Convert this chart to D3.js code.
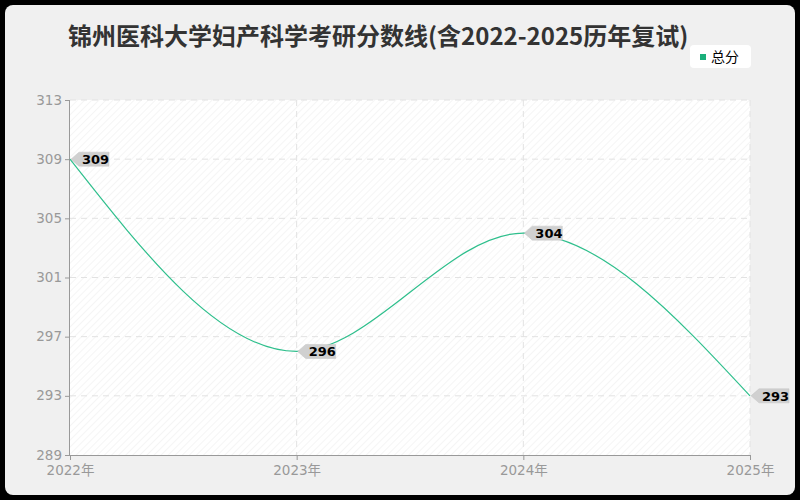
<!DOCTYPE html>
<html>
<head>
<meta charset="utf-8">
<script src="https://cdn.jsdelivr.net/npm/d3@7"></script>
<style>
  body { margin: 0; background: #000; }
  svg { display: block; font-family: "Noto Sans CJK SC", "Noto Sans", sans-serif; }
</style>
</head>
<body>
<svg id="chart" width="800" height="500"></svg>
<script>
// data
var years = ["2022年", "2023年", "2024年", "2025年"];
var scores = [309, 296, 304, 293];
var yTicks = [289, 293, 297, 301, 305, 309, 313];
var seriesName = "总分";
var title = "锦州医科大学妇产科学考研分数线(含2022-2025历年复试)";

var width = 800, height = 500;
var margin = {left: 70, right: 50, top: 100, bottom: 45};
var innerW = width - margin.left - margin.right;
var innerH = height - margin.top - margin.bottom;

var svg = d3.select("#chart");

// panel
svg.append("rect")
  .attr("x", 5).attr("y", 5)
  .attr("width", 790).attr("height", 490)
  .attr("rx", 8)
  .attr("fill", "#f0f0f0");

// hatch pattern for plot background
var defs = svg.append("defs");
var pat = defs.append("pattern")
  .attr("id", "hatch")
  .attr("patternUnits", "userSpaceOnUse")
  .attr("width", 5).attr("height", 5)
  .attr("patternTransform", "rotate(45)");
pat.append("rect").attr("width", 5).attr("height", 5).attr("fill", "#fff");
pat.append("line")
  .attr("x1", 0).attr("y1", 0).attr("x2", 0).attr("y2", 5)
  .attr("stroke", "#ececec").attr("stroke-width", 1);

svg.append("text")
  .attr("x", 68).attr("y", 45)
  .attr("font-size", "24px")
  .attr("font-weight", "bold")
  .attr("fill", "#333")
  .text(title);

// legend
var lg = svg.append("g").attr("transform", "translate(690, 45)");
lg.append("rect")
  .attr("width", 61).attr("height", 23).attr("rx", 4)
  .attr("fill", "#fff");
lg.append("rect")
  .attr("x", 10).attr("y", 9).attr("width", 6).attr("height", 6)
  .attr("fill", "#1aaf7a");
lg.append("text")
  .attr("x", 21).attr("y", 16.5)
  .attr("font-size", "14px")
  .attr("fill", "#000")
  .text(seriesName);

var g = svg.append("g")
  .attr("transform", "translate(" + margin.left + ", " + margin.top + ")");

var x = d3.scalePoint()
  .domain(years)
  .range([0, innerW]);
var y = d3.scaleLinear()
  .domain([289, 313])
  .range([innerH, 0]);

g.append("rect")
  .attr("width", innerW).attr("height", innerH)
  .attr("fill", "url(#hatch)");

// grid
g.selectAll(".hgrid").data(yTicks.slice(1)).enter()
  .append("line")
  .attr("class", "hgrid")
  .attr("x1", 0).attr("x2", innerW)
  .attr("y1", (d) => y(d)).attr("y2", (d) => y(d))
  .attr("stroke", "#e2e2e2")
  .attr("stroke-dasharray", "6,5");
g.selectAll(".vgrid").data(years.slice(1)).enter()
  .append("line")
  .attr("class", "vgrid")
  .attr("x1", (d) => x(d)).attr("x2", (d) => x(d))
  .attr("y1", 0).attr("y2", innerH)
  .attr("stroke", "#e2e2e2")
  .attr("stroke-dasharray", "6,5");

// axes
var leftAxis = d3.axisLeft(y).tickValues(yTicks).tickSize(5).tickPadding(3);
var bottomAxis = d3.axisBottom(x).tickSize(5).tickPadding(5);

var ya = g.append("g").attr("class", "y axis").call(leftAxis);
var xa = g.append("g").attr("class", "x axis")
  .attr("transform", "translate(0, " + innerH + ")")
  .call(bottomAxis);
[ya, xa].forEach((a) => {
  a.select(".domain").attr("stroke", "#999");
  a.selectAll(".tick line").attr("stroke", "#999");
  a.selectAll("text").attr("fill", "#999").attr("font-size", "13.5px")
    .attr("font-family", "\"DejaVu Sans\", \"Noto Sans CJK SC\", sans-serif");
});
ya.selectAll("text").attr("dy", "0.3em");
ya.select(".domain").attr("d", "M-0.5,0V" + innerH);
xa.select(".domain").attr("d", "M0,0.5H" + innerW);

// line
var line = d3.line()
  .x((d, i) => x(years[i]))
  .y((d) => y(d))
  .curve(d3.curveMonotoneX);

g.append("path")
  .datum(scores)
  .attr("d", line)
  .attr("fill", "none")
  .attr("stroke", "#2ebf8c")
  .attr("stroke-width", 1.2);

// value labels
var labels = g.selectAll(".lbl").data(scores).enter()
  .append("g")
  .attr("class", "lbl")
  .attr("transform", (d, i) => "translate(" + x(years[i]) + ", " + y(d) + ")");
labels.append("path")
  .attr("d", "M1,0 L9,-7 H39 V7 H9 Z")
  .attr("fill", "#d0d0d0")
  .attr("stroke", "#c4c4c4")
  .attr("stroke-width", 0.5);
labels.append("text")
  .attr("x", 12).attr("y", 5)
  .attr("font-size", "13px")
  .attr("font-weight", "bold")
  .attr("font-family", "\"DejaVu Sans\", sans-serif")
  .attr("fill", "#000")
  .text((d) => d);
</script>
</body>
</html>
